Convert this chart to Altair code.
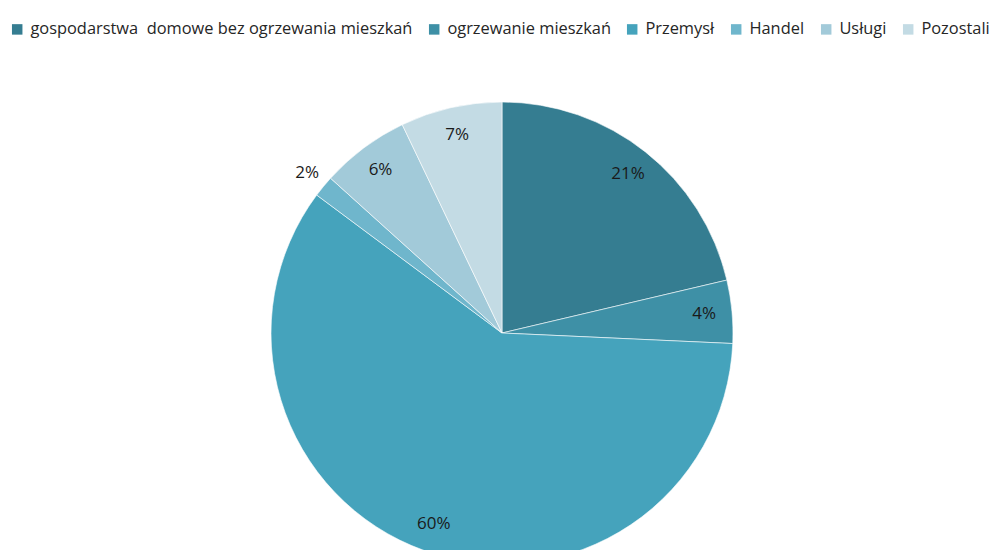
import altair as alt
import pandas as pd

categories = ["gospodarstwa\u00a0 domowe bez ogrzewania mieszkań", "ogrzewanie mieszkań",
              "Przemysł", "Handel", "Usługi", "Pozostali"]
shares = [21.3, 4.4, 59.4, 1.5, 6.2, 7.1]
labels = ["21%", "4%", "60%", "2%", "6%", "7%"]
colors = ["#357D91", "#3E90A6", "#45A3BC", "#6FB6CC", "#A2CAD9", "#C3DBE4"]

df = pd.DataFrame({"cat": categories, "share": shares, "label": labels,
                   "idx": list(range(len(categories)))})

FONT = "Open Sans"
cx, cy = 494, 325
TWO_PI = 6.283185307179586

pie = alt.Chart(df).mark_arc(outerRadius=231, stroke="white", strokeWidth=0.6).encode(
    theta=alt.Theta("share:Q", stack=True),
    order=alt.Order("idx:Q"),
    x=alt.value(cx), y=alt.value(cy),
    color=alt.Color("cat:N", scale=alt.Scale(domain=categories, range=colors),
                    sort=categories,
                    legend=alt.Legend(title=None, orient="none", direction="horizontal",
                                      legendX=1, legendY=13, columns=6,
                                      symbolType="square", symbolSize=110,
                                      symbolStrokeWidth=0, labelFont=FONT,
                                      labelFontSize=16.4, labelColor="#262626",
                                      labelOffset=5, columnPadding=13,
                                      labelLimit=600)),
)

txt_base = alt.Chart(df).transform_window(
    cum="sum(share)", sort=[alt.SortField("idx")], frame=[None, 0]
).transform_joinaggregate(
    total="sum(share)"
).transform_calculate(
    mid="(datum.cum - datum.share / 2) / datum.total"
).encode(
    theta=alt.Theta("mid:Q", stack=False, scale=alt.Scale(domain=[0, 1], range=[0, TWO_PI])),
    x=alt.value(cx), y=alt.value(cy),
    text="label:N",
)

txt_in = txt_base.transform_filter(alt.datum.cat != "Handel").mark_text(
    radius=203, font=FONT, fontSize=17, color="#1a1a1a")

txt_out = txt_base.transform_filter(alt.datum.cat == "Handel").mark_text(
    radius=252, font=FONT, fontSize=17, color="#1a1a1a")

chart = alt.layer(pie, txt_in, txt_out).resolve_scale(theta="independent").properties(
    width=986, height=542, padding=0, autosize=alt.AutoSizeParams(type="none")
).configure_view(stroke=None)

chart.save("out.html", embed_options={"renderer": "svg", "actions": False})
